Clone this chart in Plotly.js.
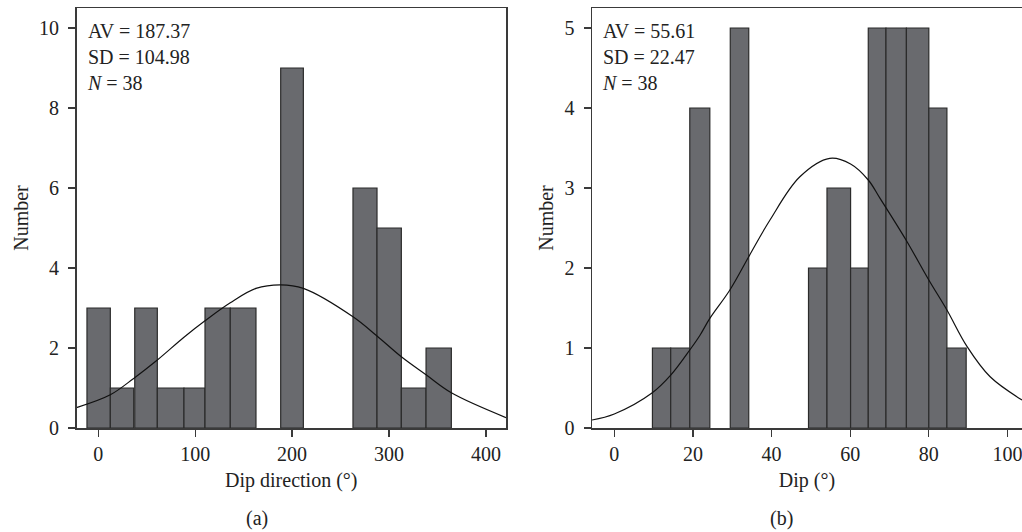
<!DOCTYPE html>
<html>
<head>
<meta charset="utf-8">
<script src="https://cdn.plot.ly/plotly-3.0.1.min.js"></script>
<style>
  html, body { margin: 0; padding: 0; background: #fff; }
  #chart { width: 1022px; height: 532px; }
</style>
</head>
<body>
<div id="chart"></div>
<script>
// ---- Panel (a): dip direction ----
const binStartA = [-11.7, 12.4, 37.6, 60.9, 88.4, 110.1, 136.2, 188.2, 262.8, 287.6, 312.7, 338.2];
const binEndA   = [12.4, 36.5, 60.9, 88.4, 110.1, 136.2, 162.7, 211.6, 287.6, 312.7, 338.2, 364.3];
const countsA   = [3, 1, 3, 1, 1, 3, 3, 9, 6, 5, 1, 2];
const curveAx   = [-22.5, 12.4, 36.5, 60.9, 88.4, 110.1, 136.2, 162.7, 188.2, 211.6, 262.8, 287.6, 312.7, 338.2, 364.3, 420.7];
const curveAy   = [0.51, 0.83, 1.24, 1.70, 2.27, 2.68, 3.13, 3.49, 3.58, 3.49, 2.78, 2.30, 1.78, 1.33, 0.88, 0.26];
const statsA    = ["AV = 187.37", "SD = 104.98", "<i>N</i> = 38"];

// ---- Panel (b): dip ----
const binStartB = [9.7, 14.35, 19.2, 29.5, 49.4, 54.1, 60.1, 64.6, 69.1, 74.3, 80.0, 84.6];
const binEndB   = [14.35, 19.2, 24.3, 34.2, 54.1, 60.1, 64.6, 69.1, 74.3, 80.0, 84.6, 89.5];
const countsB   = [1, 1, 4, 5, 2, 3, 2, 5, 5, 5, 4, 1];
const curveBx   = [-5.67, 0, 9.67, 14.35, 19.2, 21.8, 24.3, 29.4, 34.3, 39.6, 47.2, 54.8, 60.1, 64.6, 67.6, 74.2, 80.0, 84.6, 89.7, 95.6, 103.7];
const curveBy   = [0.10, 0.175, 0.44, 0.66, 0.975, 1.16, 1.37, 1.725, 2.15, 2.60, 3.14, 3.37, 3.30, 3.10, 2.87, 2.35, 1.85, 1.475, 1.02, 0.64, 0.35];
const statsB    = ["AV = 55.61", "SD = 22.47", "<i>N</i> = 38"];

const FONT = "Liberation Serif, Times New Roman, serif";
const FS = 20;
const BAR_FILL = "#696a6e";
const BAR_LINE = "#2b2b2b";
const AXIS = "#3a3a3a";
const TXT = "#222";

function barTrace(starts, ends, counts, xa, ya) {
  return {
    type: "bar",
    x: starts.map((s, i) => (s + ends[i]) / 2),
    width: starts.map((s, i) => ends[i] - s),
    y: counts,
    xaxis: xa, yaxis: ya,
    marker: { color: BAR_FILL, line: { color: BAR_LINE, width: 1.2 } },
    hoverinfo: "x+y",
    showlegend: false
  };
}
function curveTrace(xs, ys, xa, ya) {
  return {
    type: "scatter", mode: "lines",
    x: xs, y: ys, xaxis: xa, yaxis: ya,
    line: { color: "#111", width: 1.2, shape: "spline", smoothing: 1 },
    showlegend: false, hoverinfo: "skip"
  };
}

const data = [
  barTrace(binStartA, binEndA, countsA, "x", "y"),
  curveTrace(curveAx, curveAy, "x", "y"),
  barTrace(binStartB, binEndB, countsB, "x2", "y2"),
  curveTrace(curveBx, curveBy, "x2", "y2")
];

function xAxis(domain, range, dtick, title, anchor) {
  return {
    domain: domain, range: range, dtick: dtick, tick0: 0,
    showline: true, linecolor: AXIS, linewidth: 1.5, mirror: true,
    ticks: "outside", ticklen: 7, tickwidth: 1.3, tickcolor: AXIS,
    ticklabeloverflow: "allow",
    showgrid: false, zeroline: false, anchor: anchor,
    tickfont: { family: FONT, size: FS, color: TXT },
    title: { text: title, font: { family: FONT, size: FS, color: TXT }, standoff: 9 },
    automargin: false
  };
}
function yAxis(range, dtick, anchor, mirror) {
  return {
    domain: [0, 1], range: range, dtick: dtick, tick0: 0,
    showline: true, linecolor: AXIS, linewidth: 1.5, mirror: mirror,
    ticks: "outside", ticklen: 7, tickwidth: 1.3, tickcolor: AXIS,
    ticklabelstandoff: 5,
    showgrid: false, zeroline: false, anchor: anchor,
    tickfont: { family: FONT, size: FS, color: TXT },
    title: { text: "Number", font: { family: FONT, size: FS, color: TXT }, standoff: 5 },
    automargin: false
  };
}

const layout = {
  width: 1022, height: 532,
  margin: { l: 0, r: 0, t: 8, b: 104, pad: 0 },
  paper_bgcolor: "#fff", plot_bgcolor: "#fff",
  bargap: 0,
  font: { family: FONT, size: FS, color: TXT },
  xaxis: xAxis([76.5 / 1022, 506 / 1022], [-22.5, 420.7], 100, "Dip direction (°)", "y"),
  yaxis: yAxis([0, 10.5], 2, "x", true),
  xaxis2: xAxis([592 / 1022, 1], [-5.67, 103.7], 20, "Dip (°)", "y2"),
  yaxis2: yAxis([0, 5.25], 1, "x2", false),
  annotations: [
    { text: statsA.join("<br>"), xref: "x domain", yref: "y domain", x: 0, y: 1,
      xanchor: "left", yanchor: "top", xshift: 8, yshift: -10, align: "left", showarrow: false,
      font: { family: FONT, size: FS, color: TXT } },
    { text: statsB.join("<br>"), xref: "x2 domain", yref: "y2 domain", x: 0, y: 1,
      xanchor: "left", yanchor: "top", xshift: 8, yshift: -10, align: "left", showarrow: false,
      font: { family: FONT, size: FS, color: TXT } },
    { text: "(a)", xref: "paper", yref: "paper", x: 257 / 1022, y: (428 - 518) / 420,
      xanchor: "center", yanchor: "middle", showarrow: false,
      font: { family: FONT, size: FS, color: TXT } },
    { text: "(b)", xref: "paper", yref: "paper", x: 781 / 1022, y: (428 - 518) / 420,
      xanchor: "center", yanchor: "middle", showarrow: false,
      font: { family: FONT, size: FS, color: TXT } }
  ]
};

Plotly.newPlot("chart", data, layout, { displayModeBar: false, staticPlot: true });
</script>
</body>
</html>
